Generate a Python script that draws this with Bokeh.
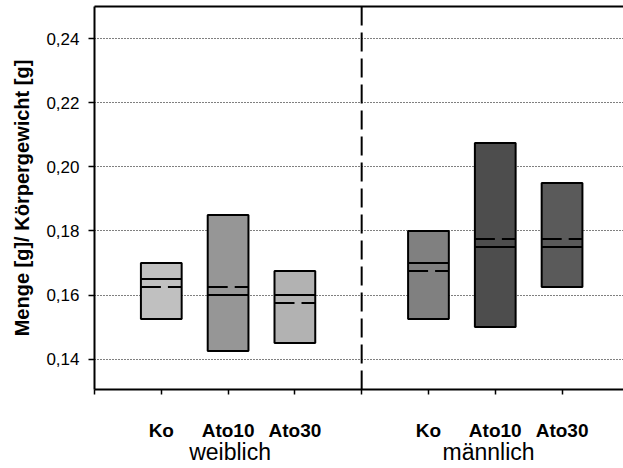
from bokeh.plotting import figure
from bokeh.models import LinearAxis, FixedTicker, CustomJSTickFormatter, Range1d
from bokeh.embed import file_html
from bokeh.resources import INLINE

# ---- data ----
treatments = ["Ko", "Ato10", "Ato30"]
groups = ["weiblich", "männlich"]
box_top_f = [0.170, 0.185, 0.1675]
box_bottom_f = [0.1525, 0.1425, 0.145]
median_f = [0.165, 0.160, 0.160]
mean_f = [0.1625, 0.1625, 0.1575]
box_top_m = [0.180, 0.2075, 0.195]
box_bottom_m = [0.1525, 0.150, 0.1625]
median_m = [0.170, 0.175, 0.175]
mean_m = [0.1675, 0.1775, 0.1775]
y_ticks = [0.14, 0.16, 0.18, 0.20, 0.22, 0.24]

# ---- style ----
colors = ["#c0c0c0", "#969696", "#b2b2b2", "#808080", "#4d4d4d", "#5a5a5a"]
FONT = "Liberation Sans"
half_w = 0.305
Y0, Y1 = 0.1305, 0.2501

pos_f = [i + 1 for i in range(len(treatments))]
divider = len(treatments) + 1
pos_m = [divider + i + 1 for i in range(len(treatments))]
xs = pos_f + pos_m
tops = box_top_f + box_top_m
bottoms = box_bottom_f + box_bottom_m
medians = median_f + median_m
means = mean_f + mean_m

p = figure(width=623, height=468, output_backend="svg", toolbar_location=None,
           x_range=Range1d(0, 7.92), y_range=Range1d(Y0, Y1),
           x_axis_location=None, y_axis_location=None,
           min_border_left=94, min_border_right=0, min_border_top=6, min_border_bottom=79)
p.outline_line_color = None
p.background_fill_color = "white"
p.border_fill_color = "white"

# grid
p.xgrid.visible = False
p.ygrid.ticker = FixedTicker(ticks=y_ticks)
p.ygrid.grid_line_color = "black"
p.ygrid.grid_line_dash = "1 2"
p.ygrid.grid_line_width = 1

# divider
p.segment(x0=[divider], x1=[divider], y0=[Y1], y1=[Y0],
          line_color="black", line_width=2, line_dash="19 7")

# boxes
p.quad(left=[x - half_w for x in xs], right=[x + half_w for x in xs],
       top=tops, bottom=bottoms, fill_color=colors, line_color="black", line_width=2)
p.segment(x0=[x - half_w for x in xs], x1=[x + half_w for x in xs],
          y0=medians, y1=medians, line_color="black", line_width=2)
p.segment(x0=[x - half_w for x in xs], x1=[x + half_w for x in xs],
          y0=means, y1=means, line_color="black", line_width=2, line_dash="20 7")

# y axis
yax = LinearAxis(ticker=FixedTicker(ticks=y_ticks),
                 formatter=CustomJSTickFormatter(code="return tick.toFixed(2).replace('.', ',');"))
yax.axis_line_width = 2
yax.axis_line_color = "black"
yax.major_tick_line_width = 1.5
yax.major_tick_in = 0
yax.major_tick_out = 6
yax.minor_tick_line_color = None
yax.major_label_text_font = FONT
yax.major_label_text_font_size = "17px"
yax.major_label_text_color = "black"
yax.major_label_standoff = 9
yax.axis_label = "Menge [g]/ Körpergewicht [g]"
yax.axis_label_text_font = FONT
yax.axis_label_text_font_style = "bold"
yax.axis_label_text_font_size = "20px"
yax.axis_label_text_color = "black"
yax.axis_label_standoff = 10
p.add_layout(yax, "left")

# x axis (treatment labels)
labels = {}
all_ticks = list(range(0, 9))
for i, t in enumerate(treatments):
    labels[pos_f[i]] = t
    labels[pos_m[i]] = t
code_labels = "const L = %s; return L[Math.round(tick)] || '';" % (
    "{" + ",".join("%d: '%s'" % (k, v) for k, v in labels.items()) + "}")
xax = LinearAxis(ticker=FixedTicker(ticks=all_ticks),
                 formatter=CustomJSTickFormatter(code=code_labels))
xax.axis_line_width = 2
xax.axis_line_color = "black"
xax.major_tick_line_width = 1.5
xax.major_tick_in = 0
xax.major_tick_out = 5
xax.minor_tick_line_color = None
xax.major_label_text_font = FONT
xax.major_label_text_font_style = "bold"
xax.major_label_text_font_size = "19px"
xax.major_label_text_color = "black"
xax.major_label_standoff = 25
xax.axis_label_standoff = 0
p.add_layout(xax, "below")

# group labels axis
group_pos = [2.03, 5.9]
gax = LinearAxis(ticker=FixedTicker(ticks=group_pos),
                 formatter=CustomJSTickFormatter(
                     code="return tick < %d ? '%s' : '%s';" % (divider, groups[0], groups[1])))
gax.axis_line_color = None
gax.major_tick_line_color = None
gax.minor_tick_line_color = None
gax.major_tick_out = 0
gax.major_tick_in = 0
gax.major_label_standoff = -5
gax.axis_label_standoff = 0
gax.major_label_text_font = FONT
gax.major_label_text_font_size = "23px"
gax.major_label_text_color = "black"
p.add_layout(gax, "below")

# top border
tax = LinearAxis(ticker=FixedTicker(ticks=[]))
tax.axis_line_width = 2
tax.axis_line_color = "black"
tax.major_tick_line_color = None
tax.minor_tick_line_color = None
tax.major_label_text_font_size = "0px"
tax.major_tick_out = 0
tax.major_tick_in = 0
tax.major_label_standoff = 0
tax.axis_label_standoff = 0
p.add_layout(tax, "above")

open("out.html", "w").write(file_html(p, INLINE))
